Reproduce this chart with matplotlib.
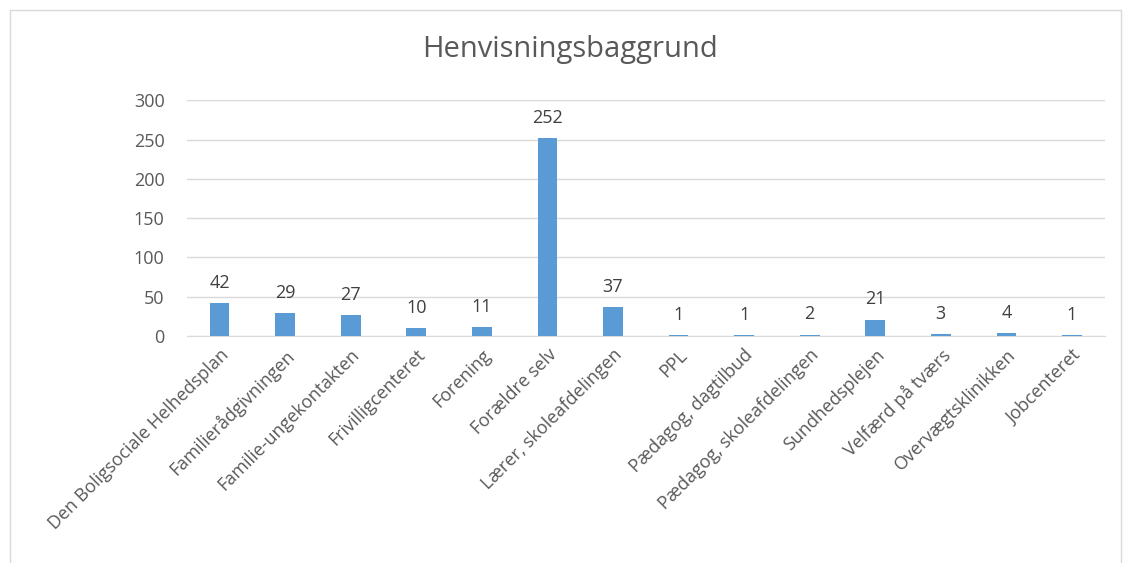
import matplotlib
matplotlib.use("Agg")
import matplotlib.pyplot as plt
from matplotlib.patches import Rectangle

categories = ["Den Boligsociale Helhedsplan", "Familierådgivningen", "Familie-ungekontakten",
              "Frivilligcenteret", "Forening", "Forældre selv", "Lærer, skoleafdelingen",
              "PPL", "Pædagog, dagtilbud", "Pædagog, skoleafdelingen", "Sundhedsplejen",
              "Velfærd på tværs", "Overvægtsklinikken", "Jobcenteret"]
values = [42, 29, 27, 10, 11, 252, 37, 1, 1, 2, 21, 3, 4, 1]
title = "Henvisningsbaggrund"
yticks = [0, 50, 100, 150, 200, 250, 300]

plt.rcParams['font.family'] = ['Open Sans', 'DejaVu Sans']
txt = "#595959"
grid = "#d9d9d9"
bar_color = "#5b9bd5"

fig = plt.figure(figsize=(11.25, 5.63), dpi=100)
ax = fig.add_axes([0.166, 0.403, 0.816, 0.419])
x = list(range(len(categories)))
bars = ax.bar(x, values, width=0.3, color=bar_color, zorder=3)
for xi, v in zip(x, values):
    ax.annotate(str(v), (xi, v), xytext=(0, 8), textcoords="offset points",
                ha="center", va="bottom", fontsize=13, color="#404040")
ax.set_xlim(-0.5, len(categories) - 0.5)
ax.set_ylim(0, 300)
ax.set_yticks(yticks)
ax.yaxis.grid(True, color=grid, linewidth=1, zorder=0)
ax.set_axisbelow(True)
for s in ["top", "right", "left"]:
    ax.spines[s].set_visible(False)
ax.spines["bottom"].set_color(grid)
ax.tick_params(axis="both", length=0, colors=txt, labelsize=13)
ax.tick_params(axis="y", pad=16)
ax.set_xticks(x)
ax.set_xticklabels(categories, rotation=45, ha="right", rotation_mode="anchor", color=txt)
ax.tick_params(axis="x", pad=7)
fig.text(0.507, 0.912, title, ha="center", va="center", fontsize=21, color=txt)
fig.patches.append(Rectangle((0.009, -0.05), 0.987, 1.032, transform=fig.transFigure,
                             fill=False, edgecolor=grid, linewidth=1))
fig.savefig("out.png", dpi=100, facecolor="white")
